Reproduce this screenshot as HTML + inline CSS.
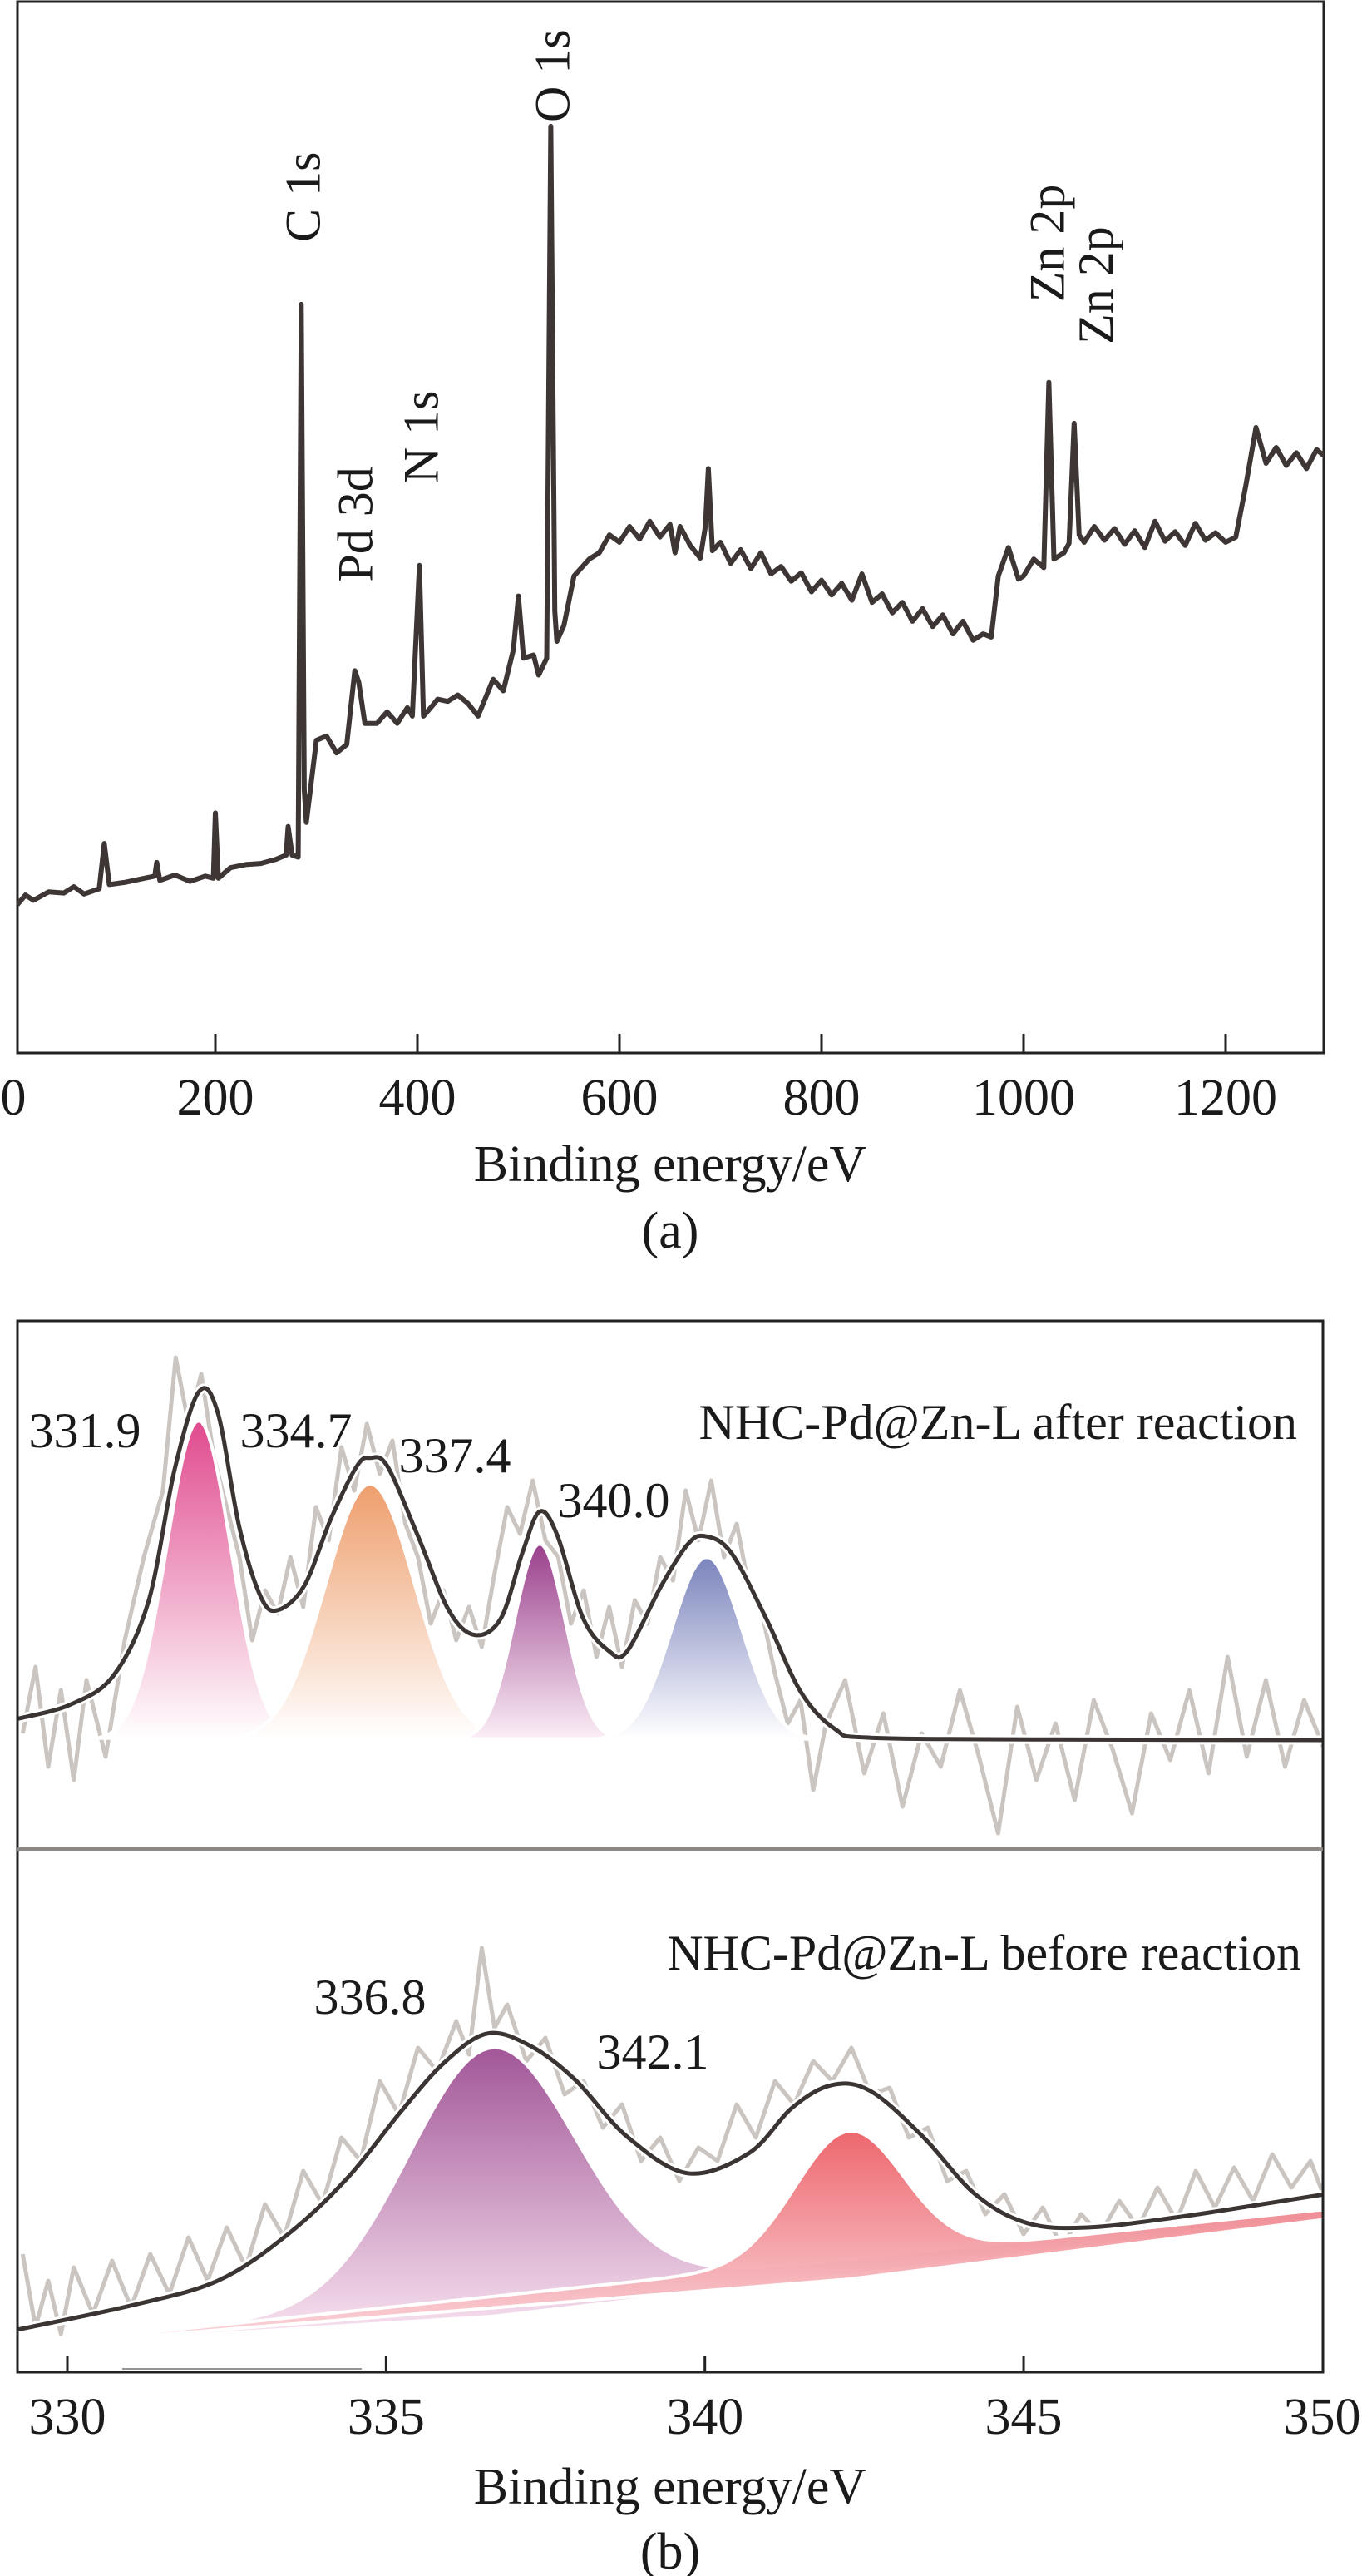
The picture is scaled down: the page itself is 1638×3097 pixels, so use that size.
<!DOCTYPE html>
<html><head><meta charset="utf-8"><style>
html,body{margin:0;padding:0;background:#fff;}
svg{display:block;}
text{font-family:"Liberation Serif","DejaVu Serif",serif;fill:#1a1a1a;}
</style></head><body>
<svg id="fig" width="1638" height="3097" viewBox="0 0 1638 3097" xmlns="http://www.w3.org/2000/svg" font-family="Liberation Serif, DejaVu Serif, serif">
<defs>
<clipPath id="clipA"><rect x="21" y="2" width="1571" height="1264"/></clipPath>
<clipPath id="clipB1"><rect x="21" y="1588" width="1571" height="634"/></clipPath>
<clipPath id="clipB2"><rect x="21" y="2224" width="1571" height="627"/></clipPath>
<linearGradient id="gPink" x1="0" y1="0" x2="0" y2="1"><stop offset="0" stop-color="#e04a8e"/><stop offset="1" stop-color="#fff"/></linearGradient>
<linearGradient id="gOrange" x1="0" y1="0" x2="0" y2="1"><stop offset="0" stop-color="#ee9e6c"/><stop offset="1" stop-color="#fff"/></linearGradient>
<linearGradient id="gPurple" x1="0" y1="0" x2="0" y2="1"><stop offset="0" stop-color="#9a3f8c"/><stop offset="1" stop-color="#fbeef6"/></linearGradient>
<linearGradient id="gBlue" x1="0" y1="0" x2="0" y2="1"><stop offset="0" stop-color="#7b84bd"/><stop offset="1" stop-color="#fff"/></linearGradient>
<linearGradient id="gPurple2" x1="0" y1="0" x2="0" y2="1"><stop offset="0" stop-color="#9c4d92"/><stop offset="1" stop-color="#fbe6f2"/></linearGradient>
<linearGradient id="gRed" x1="0" y1="0" x2="0" y2="1"><stop offset="0" stop-color="#ec5f66"/><stop offset="1" stop-color="#fbd9de"/></linearGradient>
</defs>
<g id="panelA"></g>
<g id="panelB"></g>
</svg>
<script>
// ---------- Panel (a) data ----------
const surveyEnergy = [4,12,20,35,50,60,70,85,90,95,110,125,140,142,145,160,175,190,198,200,203,215,230,245,260,270,272,276,282,285,288,290,293,300,310,320,330,338,342,348,360,370,380,390,395,402,406,415,420,430,440,450,460,475,485,495,500,505,515,520,528,532,536,538,545,555,570,580,590,
600,610,620,630,640,650,655,660,670,680,685,688,692,700,710,720,730,740,750,760,770,780,790,800,810,820,830,840,850,860,870,880,890,900,910,920,930,940,950,960,
968,975,985,995,1000,1010,1020,1025,1030,1040,1045,1050,1055,
1060,1070,1080,1090,1100,1110,1120,1130,1140,1150,1160,1170,1180,1190,1200,1210,1220,1230,
1240,1250,1260,1270,1280,1290,1300];
const surveyIntensity = [14.1,15.0,14.5,15.3,15.2,15.8,15.1,15.6,19.9,16.0,16.2,16.5,16.8,18.1,16.4,16.9,16.3,16.8,16.6,22.8,16.6,17.6,17.9,18.0,18.4,18.8,21.5,18.8,18.6,71.1,25.0,21.9,24.2,29.7,30.1,28.5,29.3,36.3,35.2,31.3,31.3,32.4,31.3,32.8,32.0,46.3,32.0,33.0,33.6,33.4,34.0,33.2,32.0,35.5,34.4,38.3,43.4,37.5,37.8,35.9,37.5,88.0,42.0,39.1,40.6,45.3,46.9,47.5,49.2,
48.5,50.0,48.8,50.5,49.0,50.2,47.5,50.0,48.2,47.0,50.0,55.5,47.7,48.5,46.5,47.8,46.0,47.5,45.5,46.2,44.8,45.6,43.8,44.9,43.5,44.6,43.0,45.5,42.8,43.6,41.8,42.8,41.0,42.2,40.5,41.6,39.8,41.0,39.2,39.8,
39.5,45.3,48.0,45.0,45.3,46.9,46.1,63.7,46.9,47.5,48.4,59.8,49.2,
48.5,50.0,48.7,49.8,48.3,49.6,48.0,50.5,48.6,49.5,48.2,50.3,48.7,49.4,48.5,49.0,53.9,59.4,
56.0,57.5,55.8,57.0,55.5,57.3,56.5];
const surveyTicks = [0,200,400,600,800,1000,1200];
const surveyPeakLabels = ["C 1s","Pd 3d","N 1s","O 1s","Zn 2p","Zn 2p"];
const surveyPeakEnergies = [285,337,402,532,1022,1070];
const surveyLabelIntensity = [81.3,50.2,58.5,92.8,76.9,72.9];

// ---------- Panel (b) data ----------
const bTicks = [330,335,340,345,350];
const afterCenters = [332.06,334.75,337.41,340.03];
const afterHeights = [96,77,59,55];
const afterSigmas = [0.5,0.7,0.4,0.55];
const afterFills = ["gPink","gOrange","gPurple","gBlue"];
const afterPeakLabels = ["331.9","334.7","337.4","340.0"];
const afterEnvE = [329.22,330.04,330.72,331.27,331.68,332.06,332.36,332.70,333.04,333.31,333.72,334.13,334.54,334.75,335.02,335.50,335.98,336.39,336.80,337.14,337.41,337.69,338.09,338.50,338.78,339.32,339.73,340.00,340.41,340.96,341.51,342.05,342.60,345.33,349.73];
const afterEnvI = [6.4,10.6,19.3,41.5,81.1,104.6,98.4,63.8,42.8,39.1,46.5,66.3,82.3,84.8,82.3,61.3,39.1,31.6,36.6,56.4,68.7,61.3,36.6,26.7,26.7,46.5,58.8,61.3,56.4,36.6,14.3,3.2,0.7,0.2,0];
const afterRawE = [329.3,329.5,329.7,329.9,330.1,330.3,330.6,330.9,331.2,331.5,331.7,331.9,332.1,332.3,332.5,332.7,332.9,333.1,333.3,333.5,333.7,333.9,334.1,334.3,334.5,334.7,334.9,335.1,335.3,335.5,335.7,335.9,336.1,336.3,336.5,336.7,336.9,337.1,337.3,337.5,337.7,337.9,338.1,338.3,338.5,338.7,338.9,339.1,339.3,339.5,339.7,339.9,340.1,340.3,340.5,340.7,340.9,341.1,341.3,341.5,341.7,341.9,342.2,342.5,342.8,343.1,343.4,343.7,344.0,344.3,344.6,344.9,345.2,345.5,345.8,346.1,346.4,346.7,347.0,347.3,347.6,347.9,348.2,348.5,348.8,349.1,349.4,349.7];
const afterRawI = [2,22,-8,15,-12,18,-5,30,55,75,115,95,110,85,70,55,30,45,38,55,40,70,60,88,75,95,80,90,65,55,35,45,30,40,28,50,70,62,78,60,55,35,45,25,40,22,42,35,55,48,75,60,78,55,65,45,38,20,5,12,-15,5,18,-10,8,-20,2,-8,15,-5,-28,10,-12,5,-18,12,-3,-22,8,-6,15,-10,25,-5,18,-8,12,-2];
const afterTitle = "NHC-Pd@Zn-L after reaction";
const beforeBaseE = [329.2,350];
const beforeBaseI = [2.3,44];
const beforeCenters = [336.66,342.26];
const beforeHeights = [74.8,38.5];
const beforeSigmas = [1.3,0.85];
const beforeFills = ["gPurple2","gRed"];
const beforePeakLabels = ["336.8","342.1"];
const beforeEnvE = [329.22,330.99,332.36,333.45,334.40,335.23,335.91,336.59,337.27,337.96,338.78,339.73,340.69,341.37,341.99,342.60,343.42,344.24,345.06,346.0,347.38,348.74,349.73];
const beforeEnvI = [7.3,14.5,22,35.8,53,72.8,87.5,96.3,92.5,82.5,65.3,54.3,60.3,74,80.8,79,65.3,48,39.3,38,41,45,48];
const beforeRawE = [329.3,329.5,329.7,329.9,330.1,330.4,330.7,331.0,331.3,331.6,331.9,332.2,332.5,332.8,333.1,333.4,333.7,334.0,334.3,334.6,334.9,335.2,335.5,335.8,336.1,336.3,336.5,336.7,336.9,337.2,337.5,337.8,338.1,338.4,338.7,339.0,339.3,339.6,339.9,340.2,340.5,340.8,341.1,341.4,341.7,342.0,342.3,342.6,342.9,343.2,343.5,343.8,344.1,344.4,344.7,345.0,345.3,345.6,345.9,346.2,346.5,346.8,347.1,347.4,347.7,348.0,348.3,348.6,348.9,349.2,349.5,349.7];
const beforeRawI = [30,8,22,6,26,12,28,14,30,18,35,22,38,26,45,35,55,45,65,58,82,72,92,85,100,90,122,98,105,88,95,78,82,68,75,58,65,52,62,58,75,65,82,75,88,82,92,78,80,65,68,52,55,42,48,36,44,32,42,36,46,38,50,40,55,44,56,46,60,50,58,48];
const beforeTitle = "NHC-Pd@Zn-L before reaction";

// ---------- axis functions ----------
const xA = e => 16 + e * 1.215;
const yA = v => 1266 - 12.66 * v;
const xB = e => 81 + (e - 330) * 76.67;
const yB1 = v => 2092 - 4 * v;
const yB2 = v => 2830 - 4 * v;

const NS = "http://www.w3.org/2000/svg";
function mk(tag, attrs, parent, txt) {
  const el = document.createElementNS(NS, tag);
  for (const k in attrs) el.setAttribute(k, attrs[k]);
  if (txt !== undefined) el.textContent = txt;
  parent.appendChild(el);
  return el;
}
function smoothPath(xs, ys) {
  let d = "M" + xs[0].toFixed(1) + "," + ys[0].toFixed(1);
  for (let i = 0; i < xs.length - 1; i++) {
    const x0 = xs[Math.max(0, i - 1)], y0 = ys[Math.max(0, i - 1)];
    const x1 = xs[i], y1 = ys[i], x2 = xs[i + 1], y2 = ys[i + 1];
    const x3 = xs[Math.min(xs.length - 1, i + 2)], y3 = ys[Math.min(xs.length - 1, i + 2)];
    const c1x = x1 + (x2 - x0) / 6, c1y = y1 + (y2 - y0) / 6;
    const c2x = x2 - (x3 - x1) / 6, c2y = y2 - (y3 - y1) / 6;
    d += "C" + c1x.toFixed(1) + "," + c1y.toFixed(1) + " " + c2x.toFixed(1) + "," + c2y.toFixed(1) + " " + x2.toFixed(1) + "," + y2.toFixed(1);
  }
  return d;
}
const gauss = (e, c, h, s) => h * Math.exp(-0.5 * ((e - c) / s) ** 2);
const FONT = "Liberation Serif, DejaVu Serif, serif";

// ---------- Panel (a) ----------
const A = document.getElementById("panelA");
let frameA = mk("rect", {x:21,y:2,width:1571,height:1264,fill:"none",stroke:"#222","stroke-width":3}, A);


surveyTicks.forEach(t => {
  if (t > 0) {
    const tk = mk("line", {x1:xA(t),x2:xA(t),y1:1266,y2:1243,stroke:"#222","stroke-width":3}, A);
    
    
  }
  const lb = mk("text", {x:Math.max(xA(t),15),y:1340,"font-size":62,"text-anchor":"middle","font-family":FONT}, A, String(t));
  
  
});
let pts = surveyEnergy.map((e, i) => xA(e).toFixed(1) + "," + yA(surveyIntensity[i]).toFixed(1)).join(" ");
let lineA = mk("polyline", {points:pts,fill:"none",stroke:"#3d3634","stroke-width":6,"stroke-linejoin":"round","clip-path":"url(#clipA)"}, A);


surveyPeakLabels.forEach((s, i) => {
  const x = xA(surveyPeakEnergies[i]) + 22, y = yA(surveyLabelIntensity[i]);
  const t = mk("text", {x:x,y:y,"font-size":60,"text-anchor":"middle","font-family":FONT,transform:"rotate(-90 " + x + " " + y + ")"}, A, s);
  
  
});
let tA = mk("text", {x:806,y:1420,"font-size":62,"text-anchor":"middle","font-family":FONT}, A, "Binding energy/eV");


let cA = mk("text", {x:806,y:1500,"font-size":62,"text-anchor":"middle","font-family":FONT}, A, "(a)");



// ---------- Panel (b) ----------
const B = document.getElementById("panelB");
const gUp = mk("g", {"clip-path":"url(#clipB1)"}, B);


const gLo = mk("g", {"clip-path":"url(#clipB2)"}, B);



let rawUp = mk("polyline", {points:afterRawE.map((e,i)=>xB(e).toFixed(1)+","+yB1(afterRawI[i]).toFixed(1)).join(" "),fill:"none",stroke:"#cbc5c2","stroke-width":5,"stroke-linejoin":"round"}, gUp);


let rawLo = mk("polyline", {points:beforeRawE.map((e,i)=>xB(e).toFixed(1)+","+yB2(beforeRawI[i]).toFixed(1)).join(" "),fill:"none",stroke:"#cbc5c2","stroke-width":5,"stroke-linejoin":"round"}, gLo);



afterCenters.forEach((c, k) => {
  const h = afterHeights[k], s = afterSigmas[k];
  let d = "";
  for (let e = c - 3.2 * s; e <= c + 3.2 * s + 1e-9; e += s / 10) {
    d += (d ? "L" : "M") + xB(e).toFixed(1) + "," + yB1(gauss(e, c, h, s)).toFixed(1);
  }
  d += "Z";
  const p = mk("path", {d:d,fill:"url(#" + afterFills[k] + ")",stroke:"#fff","stroke-width":4}, gUp);
  
  
});
const baseB = e => beforeBaseI[0] + (e - beforeBaseE[0]) * (beforeBaseI[1] - beforeBaseI[0]) / (beforeBaseE[1] - beforeBaseE[0]);
beforeCenters.forEach((c, k) => {
  const h = beforeHeights[k], s = beforeSigmas[k];
  let d = "";
  for (let e = 329.2; e <= 349.8; e += 0.1) {
    d += (d ? "L" : "M") + xB(e).toFixed(1) + "," + yB2(baseB(e) + gauss(e, c, h, s)).toFixed(1);
  }
  d += "L" + xB(349.8).toFixed(1) + "," + yB2(baseB(349.8) - 3).toFixed(1) + "L" + xB(c).toFixed(1) + "," + yB2(baseB(c) - 6).toFixed(1) + "Z";
  const p = mk("path", {d:d,fill:"url(#" + beforeFills[k] + ")",stroke:"#fff","stroke-width":4,"fill-opacity":0.95}, gLo);
  
  
});

const envUpX = afterEnvE.map(xB), envUpY = afterEnvI.map(yB1);
let eu = mk("path", {d:smoothPath(envUpX, envUpY),fill:"none",stroke:"#fff","stroke-width":11}, gUp);


let eu2 = mk("path", {d:smoothPath(envUpX, envUpY),fill:"none",stroke:"#3a3432","stroke-width":5}, gUp);


const envLoX = beforeEnvE.map(xB), envLoY = beforeEnvI.map(yB2);
let el1 = mk("path", {d:smoothPath(envLoX, envLoY),fill:"none",stroke:"#fff","stroke-width":11}, gLo);


let el2 = mk("path", {d:smoothPath(envLoX, envLoY),fill:"none",stroke:"#3a3432","stroke-width":5}, gLo);



let frameB = mk("rect", {x:21,y:1588,width:1570,height:1264,fill:"none",stroke:"#222","stroke-width":3}, B);


let div = mk("line", {x1:21,x2:1591,y1:2223,y2:2223,stroke:"#8d8784","stroke-width":4}, B);


let seg = mk("line", {x1:147,x2:435,y1:2848,y2:2848,stroke:"#9a9491","stroke-width":2}, B);


bTicks.forEach(t => {
  if (t < 350) {
    const tk = mk("line", {x1:xB(t),x2:xB(t),y1:2852,y2:2832,stroke:"#222","stroke-width":3}, B);
    
    
  }
  const lb = mk("text", {x:Math.min(xB(t),1590),y:2926,"font-size":62,"text-anchor":"middle","font-family":FONT}, B, String(t));
  
  
});
const afterLabelPos = [[102,1740],[356,1740],[547,1770],[738,1824]];
afterPeakLabels.forEach((s, i) => {
  const t = mk("text", {x:afterLabelPos[i][0],y:afterLabelPos[i][1],"font-size":60,"text-anchor":"middle","font-family":FONT}, B, s);
  
  
});
const beforeLabelPos = [[445,2421],[785,2487]];
beforePeakLabels.forEach((s, i) => {
  const t = mk("text", {x:beforeLabelPos[i][0],y:beforeLabelPos[i][1],"font-size":60,"text-anchor":"middle","font-family":FONT}, B, s);
  
  
});
let t1 = mk("text", {x:1560,y:1730,"font-size":60,"text-anchor":"end","font-family":FONT}, B, afterTitle);


let t2 = mk("text", {x:1565,y:2368,"font-size":60,"text-anchor":"end","font-family":FONT}, B, beforeTitle);


let tB = mk("text", {x:806,y:3010,"font-size":62,"text-anchor":"middle","font-family":FONT}, B, "Binding energy/eV");


let cB = mk("text", {x:806,y:3088,"font-size":62,"text-anchor":"middle","font-family":FONT}, B, "(b)");


</script>
</body></html>
